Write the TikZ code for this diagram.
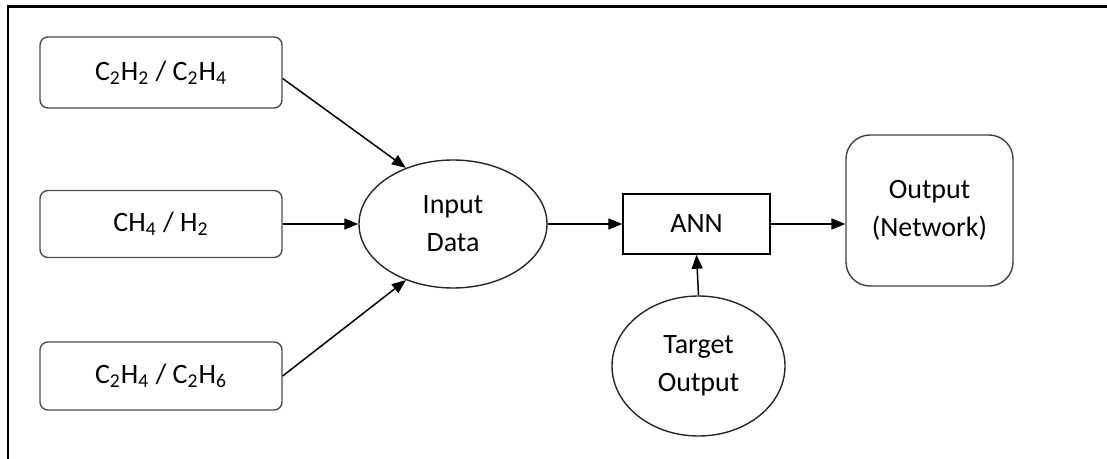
\documentclass[tikz,border=0pt]{standalone}
\usepackage{fontspec}
\setmainfont{Carlito}
\usetikzlibrary{arrows.meta,shapes.geometric}

\begin{document}
\begin{tikzpicture}[x=0.5pt,y=-0.5pt,
  every node/.style={font=\fontsize{14}{19}\selectfont,align=center,inner sep=0pt},
  gasbox/.style={draw=black!70,line width=0.7pt,rounded corners=4pt,minimum width=121pt},
  blob/.style={ellipse,draw=black!85,line width=0.7pt},
  arr/.style={-{Triangle[length=7pt,width=5.5pt]},line width=0.75pt}]
  \useasboundingbox (0,0) rectangle (1107,459);
  \draw[line width=1.3pt] (1107,6.5) -- (8,6.5) -- (8,459);
  \node[gasbox,minimum height=35.5pt] (g1) at (161,72.5) {C\textsubscript{2}H\textsubscript{2} / C\textsubscript{2}H\textsubscript{4}};
  \node[gasbox,minimum height=33.5pt] (g2) at (161,224) {CH\textsubscript{4} / H\textsubscript{2}};
  \node[gasbox,minimum height=34pt] (g3) at (161,376) {C\textsubscript{2}H\textsubscript{4} / C\textsubscript{2}H\textsubscript{6}};
  \node[blob,minimum width=94pt,minimum height=64pt] (in) at (453,224) {Input\\Data};
  \node[draw,line width=0.7pt,minimum width=73.5pt,minimum height=30pt] (ann) at (696.5,224) {ANN};
  \node[draw=black!75,line width=0.7pt,rounded corners=12pt,minimum width=83.5pt,minimum height=75.5pt] (out) at (929.5,210.5) {Output\\(Network)};
  \node[blob,minimum width=86.5pt,minimum height=70pt] (tgt) at (698.5,366) {Target\\Output};
  \draw[arr] ([yshift=-3pt]g1.east) -- (in.130);
  \draw[arr] (g2.east) -- (in.west);
  \draw[arr] (g3.east) -- (in.230);
  \draw[arr] (in.east) -- (ann.west);
  \draw[arr] (ann.east) -- (ann.east -| out.west);
  \draw[arr] (tgt.north) -- (ann.south);
\end{tikzpicture}
\end{document}
